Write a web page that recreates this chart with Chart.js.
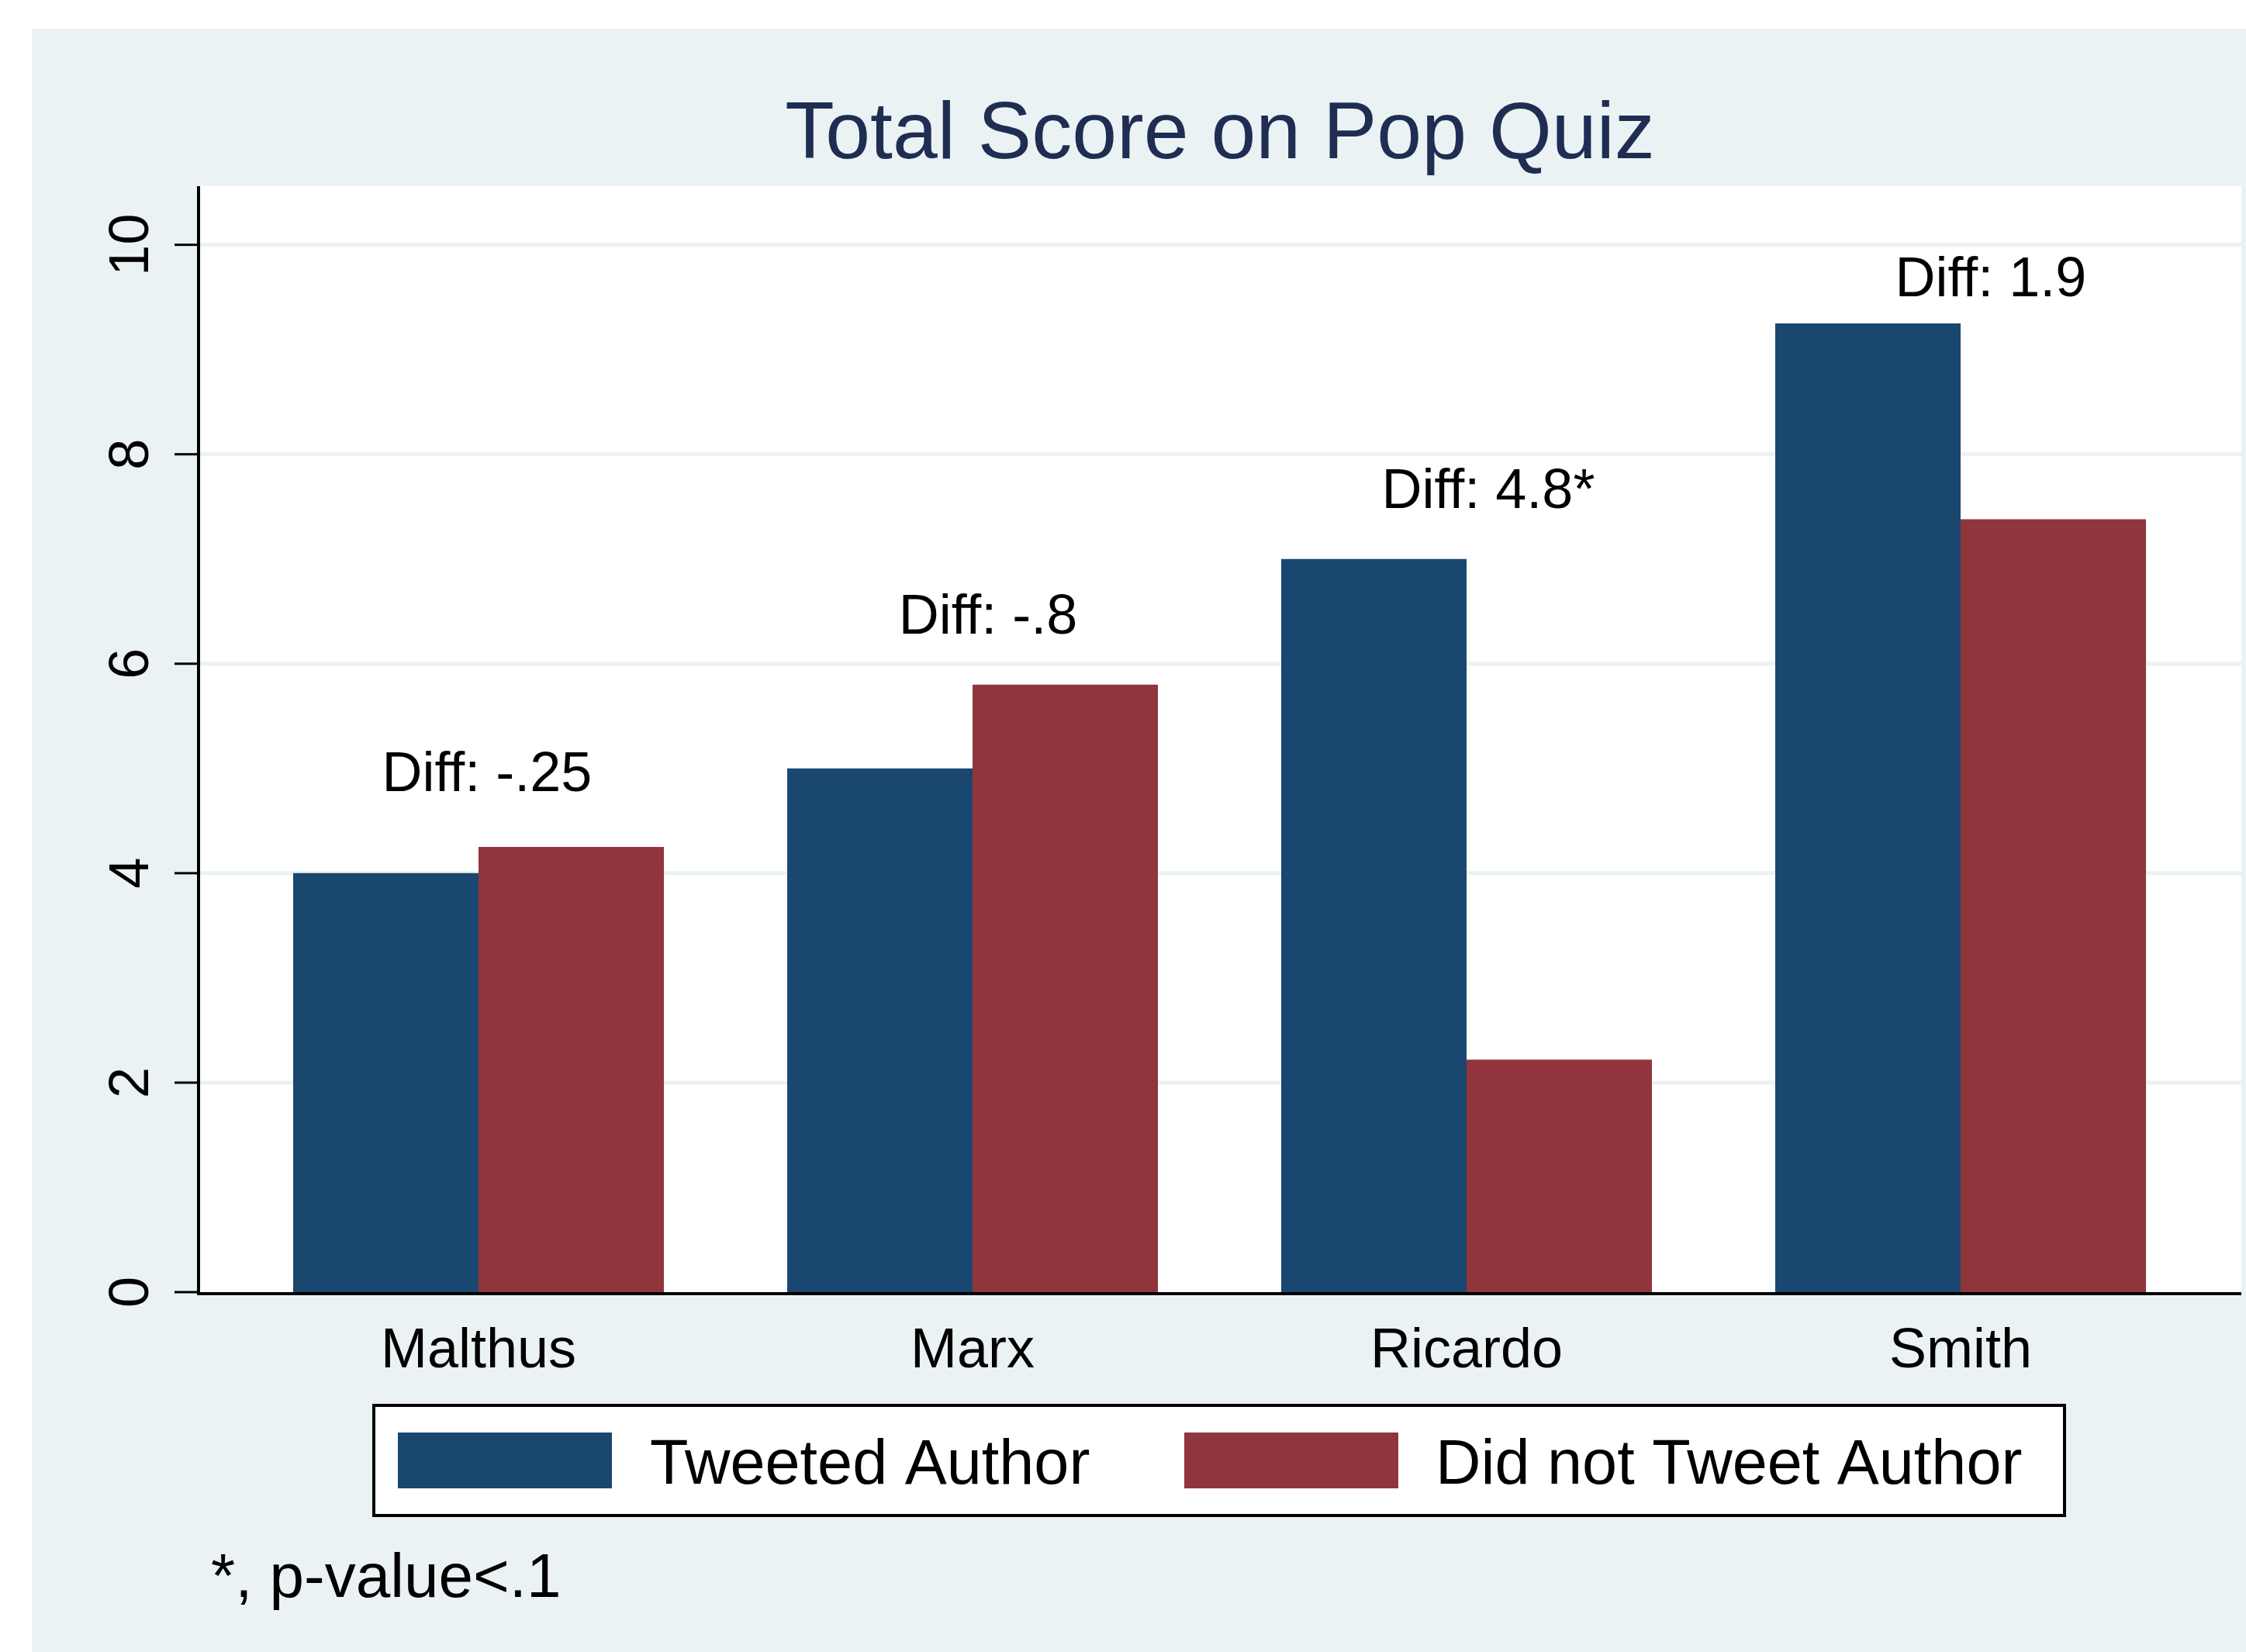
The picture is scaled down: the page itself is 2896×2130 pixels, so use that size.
<!DOCTYPE html>
<html>
<head>
<meta charset="utf-8">
<script src="https://cdn.jsdelivr.net/npm/chart.js@4.4.1/dist/chart.umd.min.js"></script>
<style>
  html, body { margin: 0; padding: 0; background: #fff; }
  #wrap { width: 2896px; height: 2130px; position: relative; }
</style>
</head>
<body>
<div id="wrap"><canvas id="quiz"></canvas></div>
<script>
const authors = ['Malthus', 'Marx', 'Ricardo', 'Smith'];
const tweeted = [4, 5, 7, 9.25];
const notTweeted = [4.25, 5.8, 2.22, 7.38];
const diffLabels = ['Diff: -.25', 'Diff: -.8', 'Diff: 4.8*', 'Diff: 1.9'];
const diffLabelY = [4.97, 6.47, 7.67, 9.69];
const yTicks = [0, 2, 4, 6, 8, 10];
const seriesNames = ['Tweeted Author', 'Did not Tweet Author'];
const footnote = '*, p-value<.1';
const title = 'Total Score on Pop Quiz';

const navy = '#1a476f';
const maroon = '#90353b';
const bluishGray = '#eaf2f3';
const FONT = '"Liberation Sans", Arial, sans-serif';

// plot region in stata terms (wider than the chart area used for categories)
const plotBox = { left: 256, right: 2890, top: 240, bottom: 1668 };
const dy = 5; // nudge for middle baseline vs glyph centre

const stataLook = {
  id: 'stataLook',
  beforeDraw(chart) {
    const c = chart.ctx;
    const y = chart.scales.y;
    c.save();
    c.fillStyle = '#ffffff';
    c.fillRect(0, 0, chart.width, chart.height);
    c.fillStyle = bluishGray;
    c.fillRect(41, 37, chart.width - 41, chart.height - 37);
    c.fillStyle = '#ffffff';
    c.fillRect(plotBox.left, plotBox.top, plotBox.right - plotBox.left, plotBox.bottom - plotBox.top);
    // grid lines
    c.strokeStyle = bluishGray;
    c.lineWidth = 5;
    yTicks.forEach(v => {
      if (v === 0) return;
      const py = y.getPixelForValue(v);
      c.beginPath();
      c.moveTo(plotBox.left, py);
      c.lineTo(plotBox.right, py);
      c.stroke();
    });
    c.restore();
  },
  afterDatasetsDraw(chart) {
    const c = chart.ctx;
    const x = chart.scales.x;
    const y = chart.scales.y;
    c.save();

    // axes
    c.strokeStyle = '#000';
    c.lineWidth = 4;
    c.beginPath();
    c.moveTo(plotBox.left, plotBox.top);
    c.lineTo(plotBox.left, plotBox.bottom);
    c.moveTo(plotBox.left - 2, plotBox.bottom);
    c.lineTo(plotBox.right, plotBox.bottom);
    c.stroke();

    // y ticks + rotated labels
    c.lineWidth = 3;
    c.fillStyle = '#000';
    c.font = '72px ' + FONT;
    c.textAlign = 'center';
    c.textBaseline = 'middle';
    yTicks.forEach(v => {
      const py = y.getPixelForValue(v);
      c.beginPath();
      c.moveTo(225, py);
      c.lineTo(plotBox.left, py);
      c.stroke();
      c.save();
      c.translate(171, py);
      c.rotate(-Math.PI / 2);
      c.fillText(String(v), 0, 0);
      c.restore();
    });

    // category labels
    authors.forEach((a, i) => {
      c.fillText(a, x.getPixelForValue(i), 1738 + dy);
    });

    // diff annotations
    const shift = [11, 20, 28, 39];
    diffLabels.forEach((t, i) => {
      c.fillText(t, x.getPixelForValue(i) + shift[i], y.getPixelForValue(diffLabelY[i]) + dy);
    });

    // title
    c.fillStyle = '#1f2d53';
    c.font = '104px ' + FONT;
    c.fillText(title, (plotBox.left + plotBox.right) / 2, 170 + dy);

    // legend
    c.fillStyle = '#fff';
    c.fillRect(482, 1812, 2180, 142);
    c.strokeStyle = '#000';
    c.lineWidth = 4;
    c.strokeRect(482, 1812, 2180, 142);
    const swatchX = [513, 1527];
    const textX = [838, 1851];
    c.font = '81px ' + FONT;
    c.textAlign = 'left';
    chart.data.datasets.forEach((ds, i) => {
      c.fillStyle = ds.backgroundColor;
      c.fillRect(swatchX[i], 1847, 276, 72);
      c.fillStyle = '#000';
      c.fillText(ds.label, textX[i], 1886 + dy);
    });

    // note
    c.font = '80px ' + FONT;
    c.fillText(footnote, 272, 2032 + dy);
    c.restore();
  }
};

new Chart(document.getElementById('quiz'), {
  type: 'bar',
  data: {
    labels: authors,
    datasets: [
      { label: seriesNames[0], data: tweeted, backgroundColor: navy, borderWidth: 0 },
      { label: seriesNames[1], data: notTweeted, backgroundColor: maroon, borderWidth: 0 }
    ]
  },
  options: {
    responsive: true,
    maintainAspectRatio: false,
    devicePixelRatio: 1,
    animation: false,
    layout: { padding: { left: 298.5, right: 49.5, top: 240, bottom: 464 } },
    datasets: { bar: { categoryPercentage: 0.7504, barPercentage: 1 } },
    plugins: { legend: { display: false }, tooltip: { enabled: false } },
    scales: {
      x: { display: false, offset: true },
      y: { display: false, min: 0, max: 10.56 }
    }
  },
  plugins: [stataLook]
});
</script>
</body>
</html>
